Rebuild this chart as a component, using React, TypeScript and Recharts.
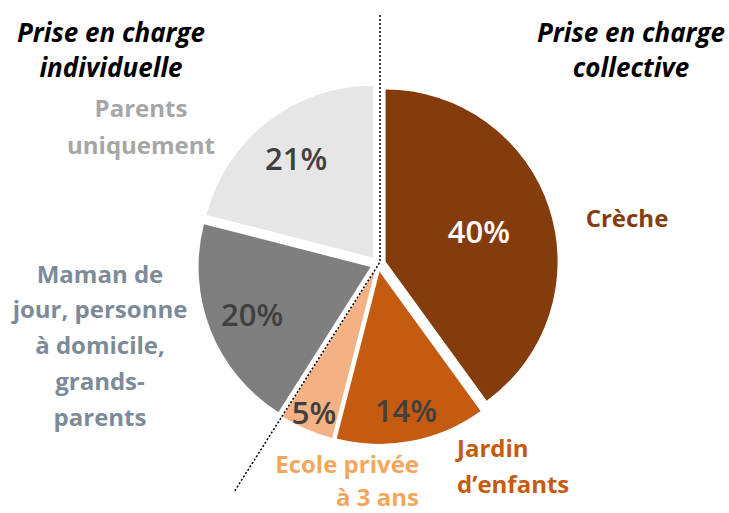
import { Cell, Pie, PieChart } from 'recharts';

const categories = ['Crèche', "Jardin d'enfants", 'Ecole privée à 3 ans', 'Maman de jour, personne à domicile, grands-parents', 'Parents uniquement'];
const shares = [40, 14, 5, 20, 21];
const percentLabels = ['40%', '14%', '5%', '20%', '21%'];
const groupTitles = ['Prise en charge individuelle', 'Prise en charge collective'];

const SLICE_COLOR = ['#843C0C', '#C55A11', '#F4B183', '#7F7F7F', '#E7E6E6'];
const NAME_COLOR = ['#843C0C', '#C55A11', '#F5A65D', '#7D8B99', '#A6A6A6'];
const PCT_COLOR = ['#ffffff', '#404040', '#404040', '#404040', '#404040'];
const PCT_RADIUS = [0.57, 0.82, 0.89, 0.74, 0.73];

// outer name labels, relative to the pie centre
const NAME_POS: { dx: number; dy: number; anchor: 'start' | 'middle' | 'end'; gap: number; lines: string[] }[] = [
  { dx: 249, dy: -47, anchor: 'middle', gap: 36, lines: ['Crèche'] },
  { dx: 79, dy: 183, anchor: 'start', gap: 36, lines: ['Jardin', 'd\u2019enfants'] },
  { dx: 41, dy: 199, anchor: 'end', gap: 33.5, lines: ['Ecole privée', 'à 3 ans'] },
  { dx: -278, dy: 9, anchor: 'middle', gap: 35.8, lines: ['Maman de', 'jour, personne', 'à domicile,', 'grands-', 'parents'] },
  { dx: -237, dy: -157, anchor: 'middle', gap: 37, lines: ['Parents', 'uniquement'] },
];

const W = 729;
const H = 513;
const CX = 378;
const CY = 264;
const R = 172;
const EXPLODE = 8;
const FONT = '"Open Sans", Lato, sans-serif';

const data = categories.map((name, i) => ({ name, value: shares[i] }));
const total = shares.reduce((a, b) => a + b, 0);

// mid angle (degrees, math convention) of each slice, clockwise from the top
const midAngles = shares.map((v, i) => {
  const before = shares.slice(0, i).reduce((a, b) => a + b, 0);
  return 90 - ((before + v / 2) / total) * 360;
});
const boundaryAngle = (i: number) => 90 - (shares.slice(0, i).reduce((a, b) => a + b, 0) / total) * 360;

const RAD = Math.PI / 180;
const offset = (i: number) => ({
  x: EXPLODE * Math.cos(midAngles[i] * RAD),
  y: -EXPLODE * Math.sin(midAngles[i] * RAD),
});

function renderLabel(props: any) {
  const { cx, cy, outerRadius, midAngle, index } = props;
  const o = offset(index);
  const r = outerRadius * PCT_RADIUS[index];
  const x = cx + o.x + r * Math.cos(-midAngle * RAD);
  const y = cy + o.y + r * Math.sin(-midAngle * RAD);
  const n = NAME_POS[index];
  return (
    <g key={`lbl-${index}`}>
      <text x={x} y={y} textAnchor="middle" dominantBaseline="central" fill={PCT_COLOR[index]} fontSize={31} fontWeight={600} fontFamily={FONT}>
        {percentLabels[index]}
      </text>
      <text textAnchor={n.anchor} fill={NAME_COLOR[index]} fontSize={24} fontWeight={700} fontFamily={FONT}>
        {n.lines.map((line, k) => (
          <tspan key={k} x={cx + n.dx} y={cy + n.dy + k * n.gap} dominantBaseline="central">
            {line}
          </tspan>
        ))}
      </text>
    </g>
  );
}

export default function App() {
  // divider: vertical from the top, then along the collective / individual boundary
  const a = boundaryAngle(3) * RAD;
  const len = 272;
  const divider = `M ${CX + 2} 15 L ${CX + 2} ${CY - 2} L ${CX + 2 + len * Math.cos(a)} ${CY - 2 - len * Math.sin(a)}`;
  const [left, right] = groupTitles.map((t) => {
    const k = t.lastIndexOf(' ');
    return [t.slice(0, k), t.slice(k + 1)];
  });

  return (
    <div style={{ position: 'absolute', left: 0, top: 0, width: W, height: H, background: '#fff' }}>
      <PieChart width={W} height={H} margin={{ top: 0, right: 0, bottom: 0, left: 0 }}>
        <Pie
          data={data}
          dataKey="value"
          nameKey="name"
          cx={CX}
          cy={CY}
          outerRadius={R}
          startAngle={90}
          endAngle={-270}
          stroke="none"
          label={renderLabel}
          labelLine={false}
          isAnimationActive={false}
        >
          {data.map((d, i) => {
            const o = offset(i);
            return <Cell key={d.name} fill={SLICE_COLOR[i]} transform={`translate(${o.x},${o.y})`} />;
          })}
        </Pie>
      </PieChart>
      <svg width={W} height={H} style={{ position: 'absolute', left: 0, top: 0, pointerEvents: 'none' }}>
        <path d={divider} fill="none" stroke="#000" strokeWidth={1.5} strokeDasharray="2 2" />
        <g fontFamily={FONT} fontSize={26} fontWeight={700} fontStyle="italic" fill="#000" textAnchor="middle">
          <text x={111} y={42}>{left[0]}</text>
          <text x={111} y={77}>{left[1]}</text>
          <text x={631} y={42}>{right[0]}</text>
          <text x={631} y={77}>{right[1]}</text>
        </g>
      </svg>
    </div>
  );
}
